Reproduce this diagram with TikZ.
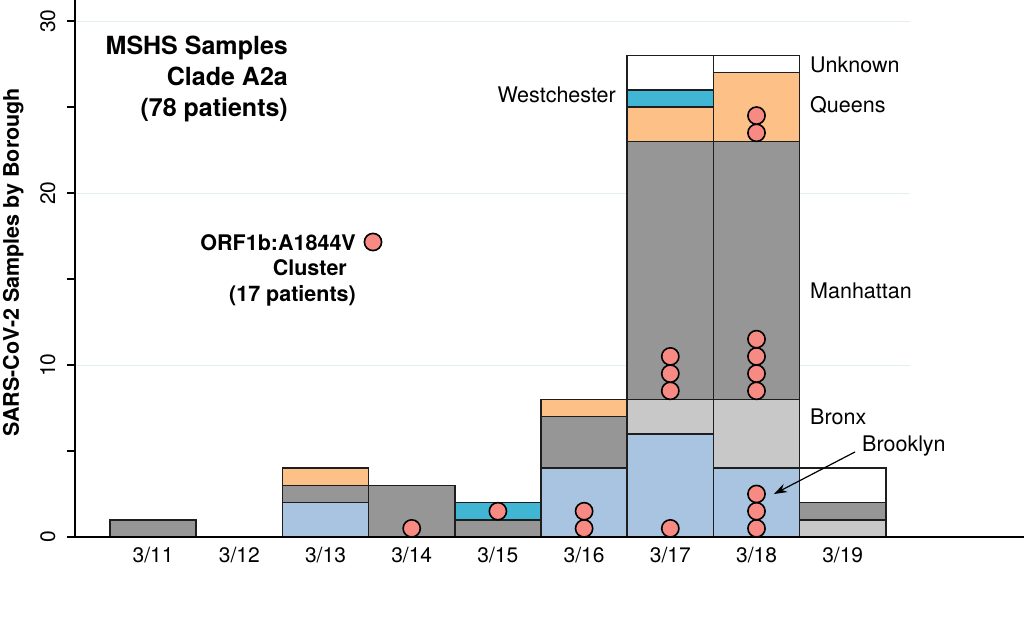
\documentclass[tikz,border=0pt]{standalone}
\usepackage{fontspec}
\setmainfont{TeX Gyre Heros}
\usetikzlibrary{arrows.meta}
\definecolor{cBrooklyn}{RGB}{168,196,224}
\definecolor{cBronx}{RGB}{200,200,200}
\definecolor{cManhattan}{RGB}{150,150,150}
\definecolor{cQueens}{RGB}{253,192,134}
\definecolor{cWest}{RGB}{65,182,212}
\definecolor{cUnknown}{RGB}{255,255,255}
\definecolor{cDot}{RGB}{248,138,132}
\definecolor{cGrid}{RGB}{226,238,240}
\definecolor{cEdge}{RGB}{30,30,30}
\newcommand\barseg[4]{\draw[segbox,fill=#4] ({110+86.2*#1},{537-17.2*#2}) rectangle ({196.2+86.2*#1},{537-17.2*#3});}
\newcommand\clusterdot[2]{\draw[dotst] ({153.1+86.2*#1},{537-17.2*#2}) circle[radius=8.6];}
\begin{document}
\begin{tikzpicture}[x=1pt,y=-1pt,
  segbox/.style={draw=cEdge,line width=1.6pt},
  dotst/.style={draw=black,fill=cDot,line width=1.6pt},
  gridln/.style={draw=cGrid,line width=1pt},
  axisln/.style={draw=black,line width=1.3pt},
  lab/.style={font=\fontsize{21.5}{26}\selectfont,inner sep=0pt,text height=15.5pt,text depth=0pt},
  blab/.style={font=\fontsize{21.5}{26}\selectfont\bfseries,inner sep=0pt,text height=15.5pt,text depth=0pt},
  tlab/.style={font=\fontsize{25}{30}\selectfont\bfseries,inner sep=0pt,text height=18pt,text depth=0pt},
  ticklab/.style={font=\fontsize{21}{25}\selectfont,inner sep=0pt,text height=15pt,text depth=0pt}]
\useasboundingbox[fill=white] (0,0) rectangle (1024,640);
% gridlines
\foreach \k in {10,20,30} {\draw[gridln] (75,{537-17.2*\k}) -- (910,{537-17.2*\k});}
% bars: 0=3/11 ... 8=3/19
\barseg{0}{0}{1}{cManhattan}
\barseg{2}{0}{2}{cBrooklyn}
\barseg{2}{2}{3}{cManhattan}
\barseg{2}{3}{4}{cQueens}
\barseg{3}{0}{3}{cManhattan}
\barseg{4}{0}{1}{cManhattan}
\barseg{4}{1}{2}{cWest}
\barseg{5}{0}{4}{cBrooklyn}
\barseg{5}{4}{7}{cManhattan}
\barseg{5}{7}{8}{cQueens}
\barseg{6}{0}{6}{cBrooklyn}
\barseg{6}{6}{8}{cBronx}
\barseg{6}{8}{23}{cManhattan}
\barseg{6}{23}{25}{cQueens}
\barseg{6}{25}{26}{cWest}
\barseg{6}{26}{28}{cUnknown}
\barseg{7}{0}{4}{cBrooklyn}
\barseg{7}{4}{8}{cBronx}
\barseg{7}{8}{23}{cManhattan}
\barseg{7}{23}{27}{cQueens}
\barseg{7}{27}{28}{cUnknown}
\barseg{8}{0}{1}{cBronx}
\barseg{8}{1}{2}{cManhattan}
\barseg{8}{2}{4}{cUnknown}
% cluster dots
\clusterdot{3}{0.5}
\clusterdot{4}{1.5}
\clusterdot{5}{0.5}\clusterdot{5}{1.5}
\clusterdot{6}{0.5}\clusterdot{6}{8.5}\clusterdot{6}{9.5}\clusterdot{6}{10.5}
\clusterdot{7}{0.5}\clusterdot{7}{1.5}\clusterdot{7}{2.5}
\clusterdot{7}{8.5}\clusterdot{7}{9.5}\clusterdot{7}{10.5}\clusterdot{7}{11.5}
\clusterdot{7}{23.5}\clusterdot{7}{24.5}
% axes
\draw[axisln] (75,0) -- (75,537);
\draw[axisln] (67,537) -- (1024,537);
\foreach \k in {0,5,...,30} {\draw[axisln] (67,{537-17.2*\k}) -- (75,{537-17.2*\k});}
% y tick labels
\node[ticklab,rotate=90] (y0) at (47.5,537) {0};
\node[ticklab,rotate=90] (y10) at (47.5,365) {10};
\node[ticklab,rotate=90] (y20) at (47.5,193) {20};
\node[ticklab,rotate=90] (y30) at (47.5,21) {30};
\node[blab,rotate=90] (ylab) at (11,262.5) {SARS-CoV-2 Samples by Borough};
% x tick labels
\foreach \d [count=\i from 0] in {11,12,13,14,15,16,17,18,19} {
  \node[ticklab] (x\d) at ({153.1+86.2*\i},554.5) {3/\d};}
% category labels
\node[lab,anchor=west] (unknown) at (810,64.5) {Unknown};
\node[lab,anchor=west] (queens) at (810,104.5) {Queens};
\node[lab,anchor=east] (westch) at (616,94.5) {Westchester};
\node[lab,anchor=west] (manh) at (810,290.5) {Manhattan};
\node[lab,anchor=west] (bronx) at (810,417) {Bronx};
\node[lab,anchor=west] (brooklyn) at (862,444) {Brooklyn};
\coordinate (arrtip) at (774,494);
\draw[line width=1.2pt,-{Stealth[length=13pt,width=9pt]}] ([xshift=-7pt,yshift=0pt]brooklyn.south west) -- (arrtip);
% title
\node[tlab,anchor=east] (t1) at (288,45) {MSHS Samples};
\node[tlab,anchor=east] (t2) at (288,76) {Clade A2a};
\node[tlab,anchor=east] (t3) at (288,107) {(78 patients)};
% cluster legend
\node[blab,anchor=east] (c1) at (356,242.5) {ORF1b:A1844V};
\node[blab,anchor=east] (c2) at (347,267.5) {Cluster};
\node[blab,anchor=east] (c3) at (356,293.5) {(17 patients)};
\draw[dotst] (373,242) circle[radius=8.6];
\end{tikzpicture}
\end{document}
